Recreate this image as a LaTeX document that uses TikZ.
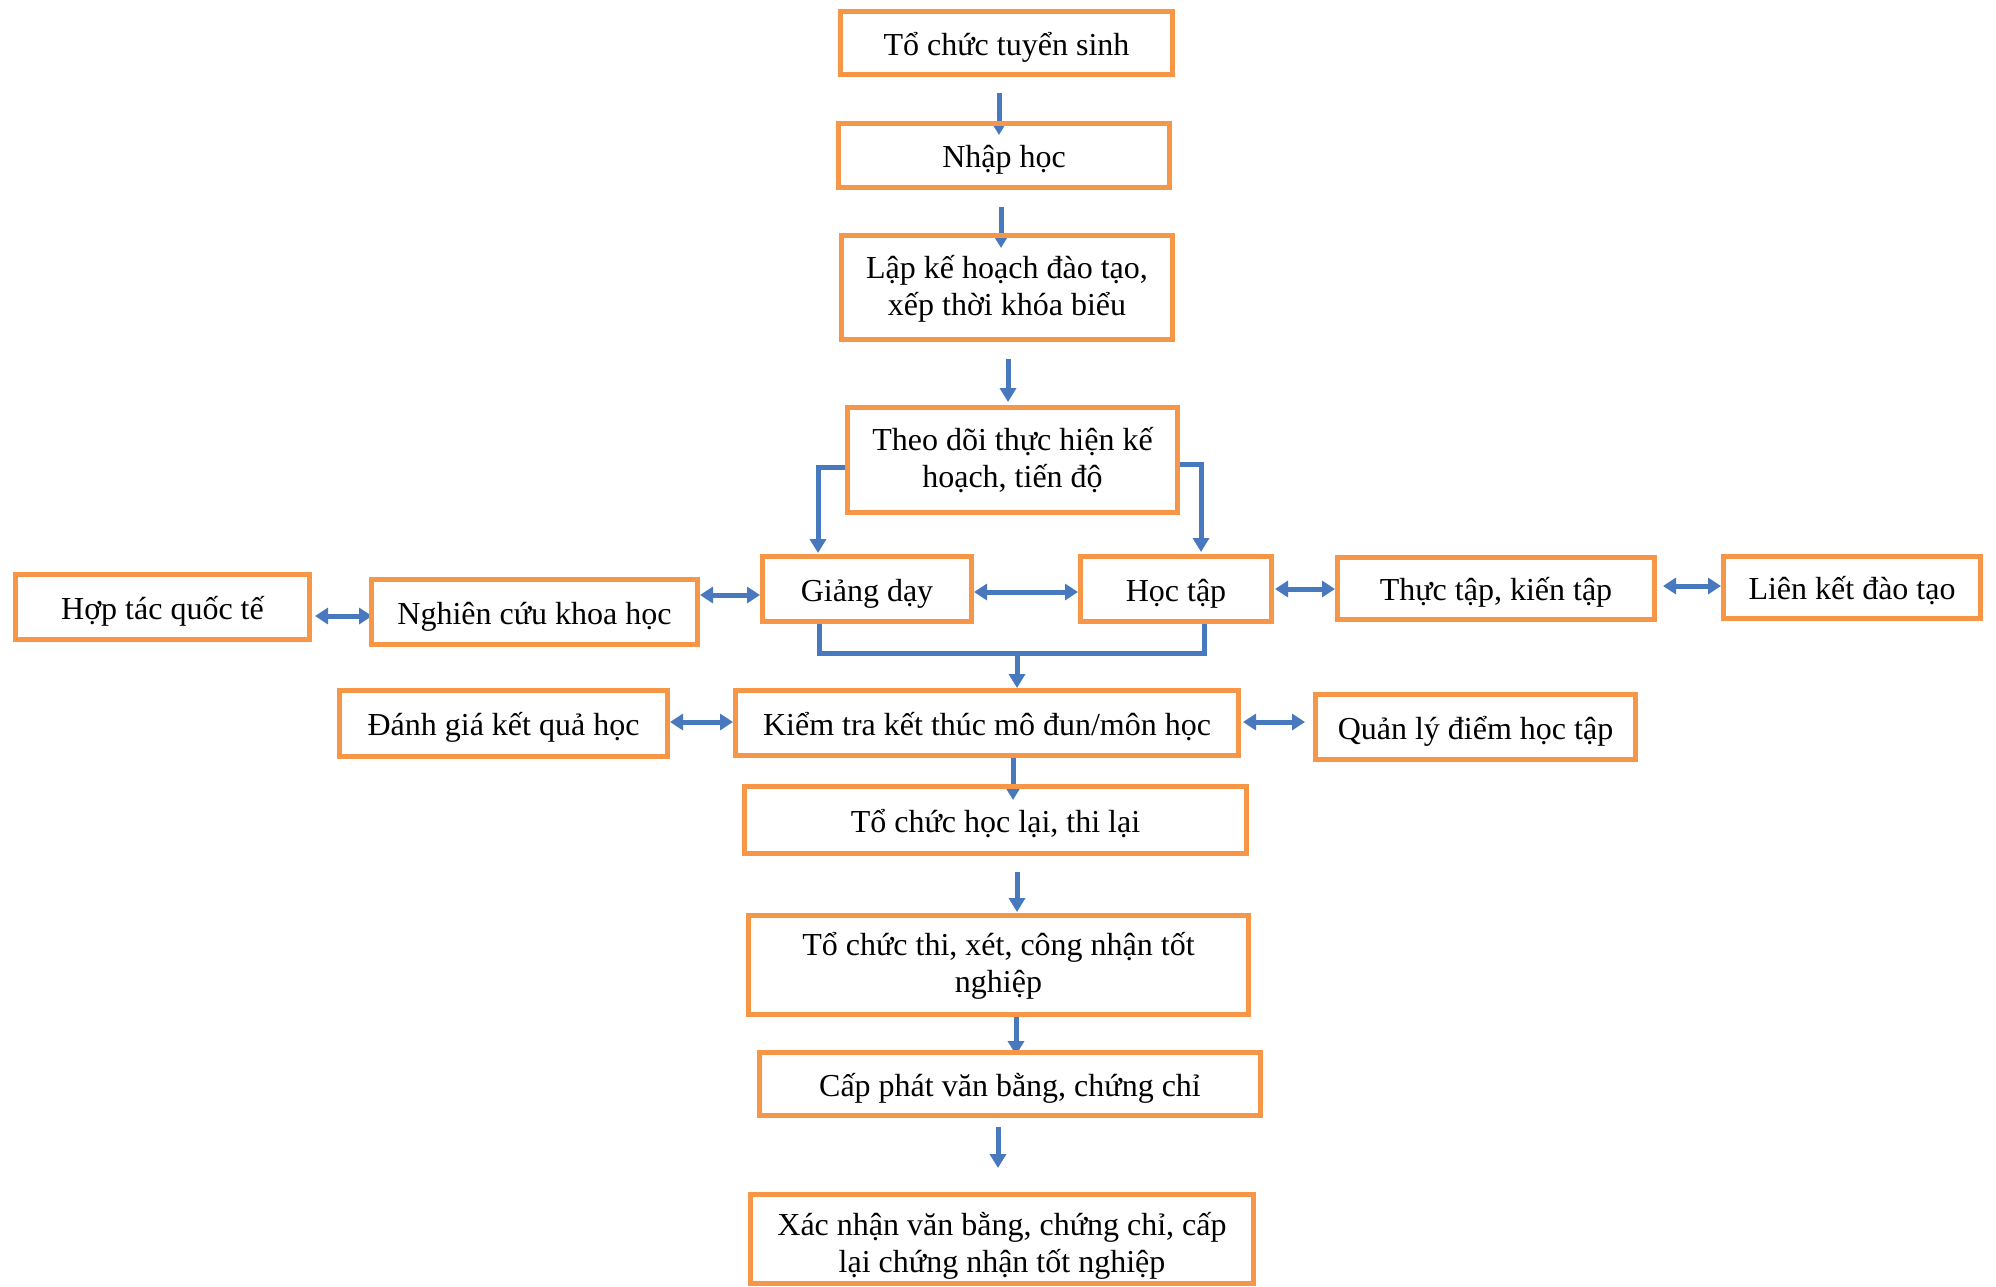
\documentclass[tikz,border=0pt]{standalone}
\usepackage{fontspec}
\setmainfont{Liberation Serif}
\usetikzlibrary{arrows.meta,calc,backgrounds}
\definecolor{boxorange}{HTML}{F79646}
\definecolor{flowblue}{HTML}{4878BE}
% two centred lines with fixed extent above the first and below the last baseline
\newcommand{\tworow}[4]{\rule{0pt}{#3}#1\\#2\rule[-#4]{0pt}{0pt}}
\begin{document}
\begin{tikzpicture}[x=1pt,y=-1pt,
  procbox/.style={draw=boxorange, line width=5pt, line join=miter, inner sep=0pt,
    align=center, font=\fontsize{32}{37}\selectfont},
  oneline/.style={procbox, text height=31pt, text depth=7pt},
  flow/.style={draw=flowblue, line width=5pt, line join=miter,
    -{Triangle[width=16pt,length=14pt]}},
  flow2/.style={draw=flowblue, line width=5pt,
    {Triangle[width=16pt,length=13pt]}-{Triangle[width=16pt,length=13pt]}},
  joinline/.style={draw=flowblue, line width=5pt, line join=miter}]
\useasboundingbox (0,0) rectangle (1996,1286);

% main column
\node[oneline, minimum width=332pt, minimum height=63pt] (b1) at (1006.5,43) {Tổ chức tuyển sinh};
\node[oneline, minimum width=331pt, minimum height=64pt] (b2) at (1004,155.5) {Nhập học};
\node[procbox, minimum width=331pt, minimum height=104pt] (b3) at (1007,287.5)
  {\tworow{Lập kế hoạch đào tạo,}{xếp thời khóa biểu}{34pt}{16pt}};
\node[procbox, minimum width=330pt, minimum height=105pt] (b4) at (1012.5,460)
  {\tworow{Theo dõi thực hiện kế}{hoạch, tiến độ}{34pt}{16pt}};

% teaching / learning row
\node[oneline, minimum width=209pt, minimum height=65pt] (gd) at (867,589) {Giảng dạy};
\node[oneline, minimum width=191pt, minimum height=65pt] (ht) at (1176,589) {Học tập};
\node[oneline, minimum width=317pt, minimum height=62pt] (tt) at (1496,588.5) {Thực tập, kiến tập};
\node[oneline, minimum width=257pt, minimum height=62pt] (lk) at (1852,587.5) {Liên kết đào tạo};
\node[oneline, minimum width=294pt, minimum height=65pt] (hq) at (162.5,607) {Hợp tác quốc tế};
\node[oneline, minimum width=326pt, minimum height=65pt] (nc) at (534.5,612) {Nghiên cứu khoa học};

% assessment row
\node[oneline, minimum width=328pt, minimum height=66pt] (dg) at (503.5,723.5) {Đánh giá kết quả học};
\node[oneline, minimum width=503pt, minimum height=65pt] (kt) at (987,723) {Kiểm tra kết thúc mô đun/môn học};
\node[oneline, minimum width=320pt, minimum height=65pt] (ql) at (1475.5,727) {Quản lý điểm học tập};

% graduation column
\node[oneline, minimum width=502pt, minimum height=67pt] (hl) at (995.5,820) {Tổ chức học lại, thi lại};
\node[procbox, minimum width=500pt, minimum height=99pt] (th) at (998.5,965)
  {\tworow{Tổ chức thi, xét, công nhận tốt}{nghiệp}{34pt}{16pt}};
\node[oneline, minimum width=501pt, minimum height=63pt] (cp) at (1010,1084) {Cấp phát văn bằng, chứng chỉ};
\node[procbox, minimum width=503pt, minimum height=89pt] (xn) at (1002,1239)
  {\tworow{Xác nhận văn bằng, chứng chỉ, cấp}{lại chứng nhận tốt nghiệp}{36pt}{7pt}};

\begin{pgfonlayer}{background}
  % straight flow down the main column
  \draw[flow] ($(b1.south)+(-7.5,16)$) -- ($(b2.north)+(-5,14)$);
  \draw[flow] ($(b2.south)+(-3,17)$) -- ($(b3.north)+(-6,15)$);
  \draw[flow] ($(b3.south)+(1,17)$) -- ($(b4.north)+(-4.5,-3)$);

  % split to teaching and learning
  \draw[flow] ($(b4.west)+(0,7)$) -| ($(gd.north)+(-49,-1)$);
  \draw[flow] ($(b4.east)+(0,4)$) -| ($(ht.north)+(25,-2)$);

  % two-way links
  \draw[flow2] ($(gd.east)+(0,3)$) -- ($(ht.west)+(0,3)$);
  \draw[flow2] ($(nc.east)+(0,-17)$) -- ($(gd.west)+(0,6)$);
  \draw[flow2] ($(hq.east)+(3,9)$) -- ($(nc.west)+(3,4)$);
  \draw[flow2] ($(ht.east)+(1,0)$) -- ($(tt.west)+(0,0.5)$);
  \draw[flow2] ($(tt.east)+(6,-2.5)$) -- ($(lk.west)+(0,-1.5)$);
  \draw[flow2] ($(dg.east)+(0,-1.5)$) -- ($(kt.west)+(0,-1)$);
  \draw[flow2] ($(kt.east)+(2,-1)$) -- ($(ql.west)+(-8,-5)$);

  % merge of teaching and learning into the final test
  \draw[joinline] ($(gd.south)+(-48,0)$) -- ++(0,29) -| ($(ht.south)+(28,0)$);
  \draw[flow] ($(kt.north)+(30,-35)$) -- ($(kt.north)+(30,0)$);

  % graduation steps
  \draw[flow] ($(kt.south)+(26,0)$) -- ($(hl.north)+(17.5,16)$);
  \draw[flow] ($(hl.south)+(21.5,16)$) -- ($(th.north)+(18.5,-1)$);
  \draw[flow] ($(th.south)+(17.5,0)$) -- ($(cp.north)+(6,5)$);
  \draw[flow] ($(cp.south)+(-12,9)$) -- ($(xn.north)+(-4,-24)$);
\end{pgfonlayer}
\end{tikzpicture}
\end{document}
